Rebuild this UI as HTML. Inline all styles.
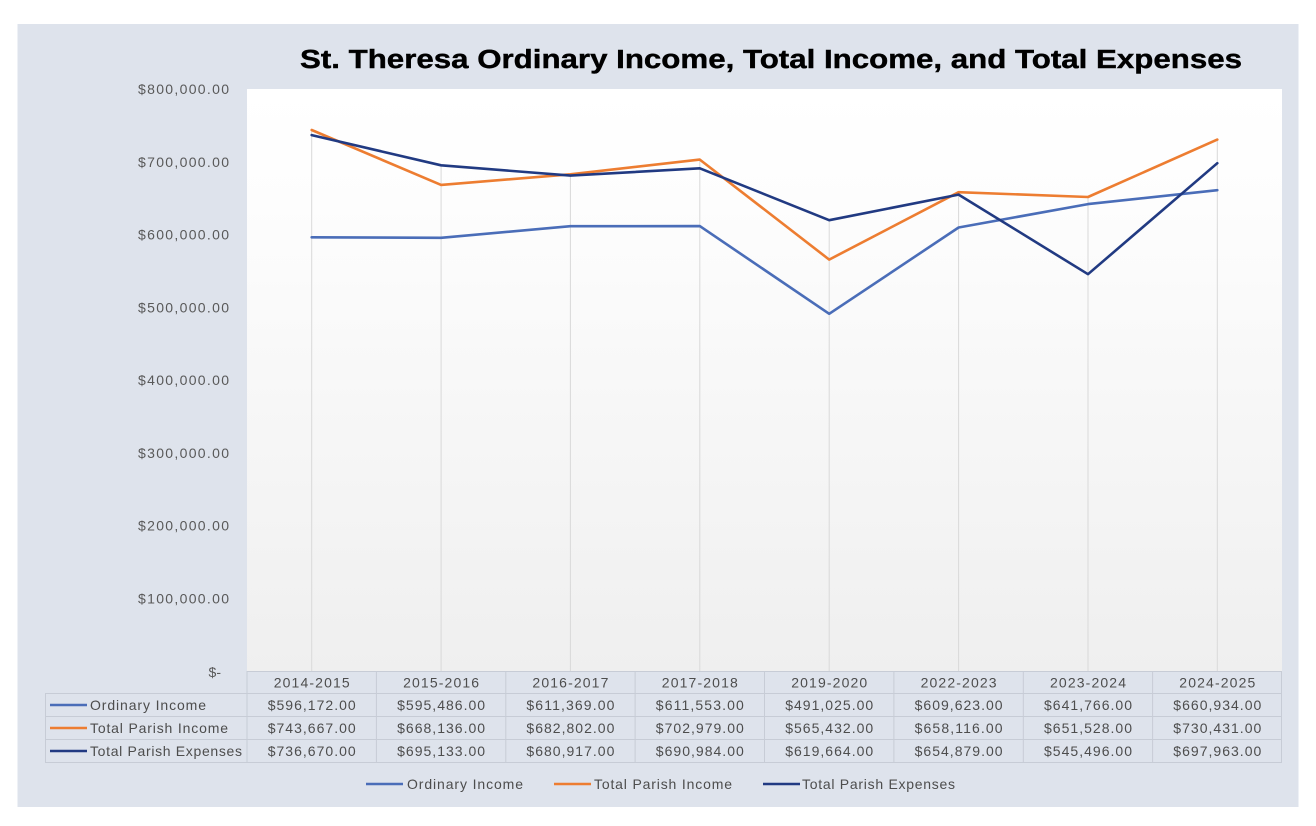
<!DOCTYPE html>
<html><head><meta charset="utf-8"><style>
html,body{margin:0;padding:0;background:#fff;}
svg{display:block;}
text{font-family:"Liberation Sans",sans-serif;}
</style></head><body>
<svg width="1316" height="826" viewBox="0 0 1316 826" xmlns="http://www.w3.org/2000/svg">
<defs>
<linearGradient id="pg" x1="0" y1="0" x2="0" y2="1">
<stop offset="0" stop-color="#ffffff"/>
<stop offset="0.2" stop-color="#fdfdfd"/>
<stop offset="1" stop-color="#efefef"/>
</linearGradient>
</defs>
<rect x="0" y="0" width="1316" height="826" fill="#ffffff"/>
<rect x="17.5" y="24" width="1281" height="783" fill="#dee3ec"/>
<rect x="247" y="89" width="1035" height="582" fill="url(#pg)"/>

<text x="300" y="68" font-size="25.5" font-weight="bold" fill="#000" stroke="#000" stroke-width="0.4" textLength="942" lengthAdjust="spacingAndGlyphs">St. Theresa Ordinary Income, Total Income, and Total Expenses</text>

<g font-size="14" fill="#595959" text-anchor="end">
<text x="229" y="94" textLength="91" lengthAdjust="spacing">$800,000.00</text>
<text x="229" y="166.75" textLength="91" lengthAdjust="spacing">$700,000.00</text>
<text x="229" y="239.5" textLength="91" lengthAdjust="spacing">$600,000.00</text>
<text x="229" y="312.25" textLength="91" lengthAdjust="spacing">$500,000.00</text>
<text x="229" y="385" textLength="91" lengthAdjust="spacing">$400,000.00</text>
<text x="229" y="457.75" textLength="91" lengthAdjust="spacing">$300,000.00</text>
<text x="229" y="530.5" textLength="91" lengthAdjust="spacing">$200,000.00</text>
<text x="229" y="603.25" textLength="91" lengthAdjust="spacing">$100,000.00</text>
<text x="221" y="677">$-</text>
</g>

<!-- drop lines -->
<g stroke="#d9d9d9" stroke-width="1">
<line x1="311.7" y1="130" x2="311.7" y2="671"/>
<line x1="441.1" y1="165" x2="441.1" y2="671"/>
<line x1="570.4" y1="174" x2="570.4" y2="671"/>
<line x1="699.8" y1="160" x2="699.8" y2="671"/>
<line x1="829.2" y1="220" x2="829.2" y2="671"/>
<line x1="958.6" y1="192" x2="958.6" y2="671"/>
<line x1="1088" y1="197" x2="1088" y2="671"/>
<line x1="1217.3" y1="140" x2="1217.3" y2="671"/>
</g>

<!-- series -->
<g fill="none" stroke-width="2.6" stroke-linejoin="round" stroke-linecap="round">
<polyline stroke="#4a6db8" points="311.7,237.3 441.1,237.8 570.4,226.2 699.8,226.1 829.2,313.8 958.6,227.5 1088,204.1 1217.3,190.2"/>
<polyline stroke="#ed7d31" points="311.7,130 441.1,184.9 570.4,174.3 699.8,159.6 829.2,259.6 958.6,192.2 1088,197 1217.3,139.6"/>
<polyline stroke="#213a82" points="311.7,135.1 441.1,165.3 570.4,175.6 699.8,168.3 829.2,220.2 958.6,194.6 1088,274.2 1217.3,163.2"/>
</g>

<!-- table -->
<g stroke="#c7ccd6" stroke-width="1" fill="none">
<line x1="247" y1="671.5" x2="1282" y2="671.5"/>
<line x1="45" y1="693.5" x2="1282" y2="693.5"/>
<line x1="45" y1="716.5" x2="1282" y2="716.5"/>
<line x1="45" y1="739.5" x2="1282" y2="739.5"/>
<line x1="45" y1="762.5" x2="1282" y2="762.5"/>
<line x1="45.5" y1="693" x2="45.5" y2="763"/>
<line x1="247" y1="671" x2="247" y2="763"/>
<line x1="376.4" y1="671" x2="376.4" y2="763"/>
<line x1="505.8" y1="671" x2="505.8" y2="763"/>
<line x1="635.1" y1="671" x2="635.1" y2="763"/>
<line x1="764.5" y1="671" x2="764.5" y2="763"/>
<line x1="893.9" y1="671" x2="893.9" y2="763"/>
<line x1="1023.3" y1="671" x2="1023.3" y2="763"/>
<line x1="1152.6" y1="671" x2="1152.6" y2="763"/>
<line x1="1281.5" y1="671" x2="1281.5" y2="763"/>
</g>

<g font-size="14" fill="#4d4d4d" text-anchor="middle">
<text x="311.7" y="687.5" textLength="76" lengthAdjust="spacing">2014-2015</text>
<text x="441.1" y="687.5" textLength="76" lengthAdjust="spacing">2015-2016</text>
<text x="570.4" y="687.5" textLength="76" lengthAdjust="spacing">2016-2017</text>
<text x="699.8" y="687.5" textLength="76" lengthAdjust="spacing">2017-2018</text>
<text x="829.2" y="687.5" textLength="76" lengthAdjust="spacing">2019-2020</text>
<text x="958.6" y="687.5" textLength="76" lengthAdjust="spacing">2022-2023</text>
<text x="1088" y="687.5" textLength="76" lengthAdjust="spacing">2023-2024</text>
<text x="1217.3" y="687.5" textLength="76" lengthAdjust="spacing">2024-2025</text>

<text x="311.7" y="710" textLength="88" lengthAdjust="spacing">$596,172.00</text>
<text x="441.1" y="710" textLength="88" lengthAdjust="spacing">$595,486.00</text>
<text x="570.4" y="710" textLength="88" lengthAdjust="spacing">$611,369.00</text>
<text x="699.8" y="710" textLength="88" lengthAdjust="spacing">$611,553.00</text>
<text x="829.2" y="710" textLength="88" lengthAdjust="spacing">$491,025.00</text>
<text x="958.6" y="710" textLength="88" lengthAdjust="spacing">$609,623.00</text>
<text x="1088" y="710" textLength="88" lengthAdjust="spacing">$641,766.00</text>
<text x="1217.3" y="710" textLength="88" lengthAdjust="spacing">$660,934.00</text>

<text x="311.7" y="733" textLength="88" lengthAdjust="spacing">$743,667.00</text>
<text x="441.1" y="733" textLength="88" lengthAdjust="spacing">$668,136.00</text>
<text x="570.4" y="733" textLength="88" lengthAdjust="spacing">$682,802.00</text>
<text x="699.8" y="733" textLength="88" lengthAdjust="spacing">$702,979.00</text>
<text x="829.2" y="733" textLength="88" lengthAdjust="spacing">$565,432.00</text>
<text x="958.6" y="733" textLength="88" lengthAdjust="spacing">$658,116.00</text>
<text x="1088" y="733" textLength="88" lengthAdjust="spacing">$651,528.00</text>
<text x="1217.3" y="733" textLength="88" lengthAdjust="spacing">$730,431.00</text>

<text x="311.7" y="756" textLength="88" lengthAdjust="spacing">$736,670.00</text>
<text x="441.1" y="756" textLength="88" lengthAdjust="spacing">$695,133.00</text>
<text x="570.4" y="756" textLength="88" lengthAdjust="spacing">$680,917.00</text>
<text x="699.8" y="756" textLength="88" lengthAdjust="spacing">$690,984.00</text>
<text x="829.2" y="756" textLength="88" lengthAdjust="spacing">$619,664.00</text>
<text x="958.6" y="756" textLength="88" lengthAdjust="spacing">$654,879.00</text>
<text x="1088" y="756" textLength="88" lengthAdjust="spacing">$545,496.00</text>
<text x="1217.3" y="756" textLength="88" lengthAdjust="spacing">$697,963.00</text>
</g>

<!-- row keys -->
<g stroke-width="2.6">
<line x1="50" y1="705" x2="87" y2="705" stroke="#4a6db8"/>
<line x1="50" y1="728" x2="87" y2="728" stroke="#ed7d31"/>
<line x1="50" y1="751" x2="87" y2="751" stroke="#213a82"/>
</g>
<g font-size="14" fill="#4d4d4d">
<text x="90" y="710" textLength="116" lengthAdjust="spacing">Ordinary Income</text>
<text x="90" y="733" textLength="138" lengthAdjust="spacing">Total Parish Income</text>
<text x="90" y="756" textLength="152" lengthAdjust="spacing">Total Parish Expenses</text>
</g>

<!-- legend -->
<g stroke-width="2.6">
<line x1="366" y1="784" x2="403" y2="784" stroke="#4a6db8"/>
<line x1="554" y1="784" x2="591" y2="784" stroke="#ed7d31"/>
<line x1="763" y1="784" x2="800" y2="784" stroke="#213a82"/>
</g>
<g font-size="14" fill="#4d4d4d">
<text x="407" y="789" textLength="116" lengthAdjust="spacing">Ordinary Income</text>
<text x="594" y="789" textLength="138" lengthAdjust="spacing">Total Parish Income</text>
<text x="802" y="789" textLength="153" lengthAdjust="spacing">Total Parish Expenses</text>
</g>
</svg>
</body></html>
